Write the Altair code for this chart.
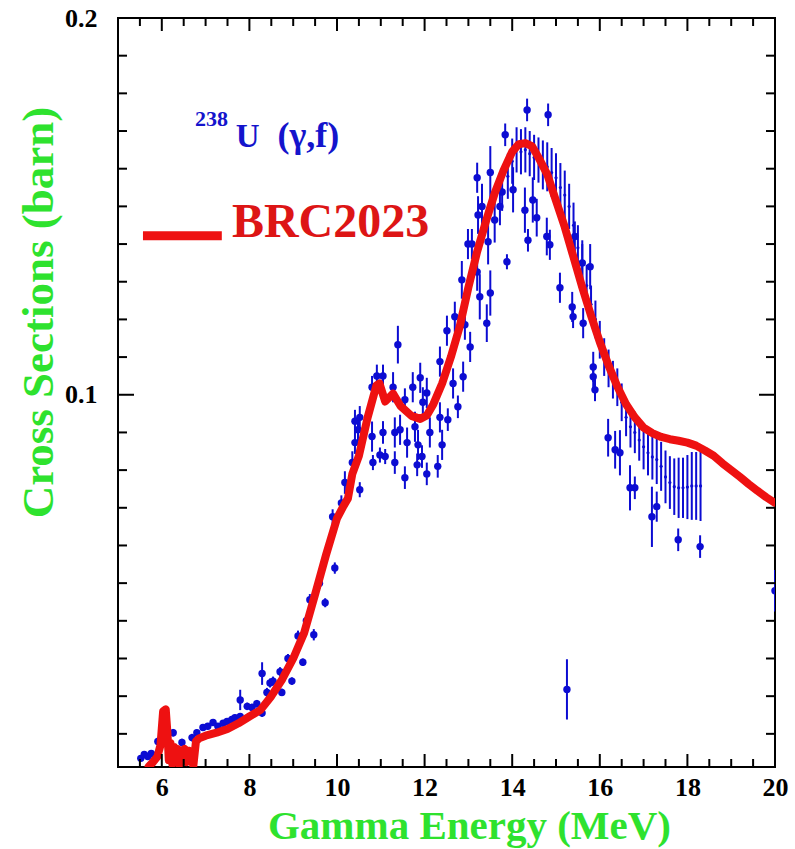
import altair as alt
import numpy as np
import pandas as pd

# ---------------------------------------------------------------- data
# BRC2023 evaluated 238U(gamma,f) cross section (barn) vs gamma energy (MeV)
curve_energy = [5.70, 5.80, 5.90, 5.97, 6.03, 6.09, 6.13, 6.16, 6.20, 6.24,
                6.28, 6.32, 6.36, 6.41, 6.46, 6.52, 6.57, 6.62, 6.67, 6.72,
                6.78, 6.85, 7.00, 7.25, 7.50, 7.75, 8.00, 8.25, 8.50, 8.75,
                9.00, 9.25, 9.50, 9.75, 10.00, 10.15, 10.25, 10.35, 10.50, 10.70,
                10.90, 10.97, 11.10, 11.28, 11.45, 11.70, 11.90, 12.05, 12.20, 12.40,
                12.60, 12.80, 13.00, 13.20, 13.40, 13.60, 13.80, 14.00, 14.15, 14.30,
                14.45, 14.60, 14.80, 15.00, 15.20, 15.40, 15.60, 15.80, 16.00, 16.20,
                16.40, 16.60, 16.80, 17.00, 17.20, 17.40, 17.60, 17.80, 18.00, 18.20,
                18.40, 18.60, 18.80, 19.00, 19.20, 19.40, 19.60, 19.80, 20.00]
curve_xs = [0.0013, 0.0025, 0.0040, 0.0070, 0.0160, 0.0165, 0.0100, 0.0030, 0.0075, 0.0020,
            0.0065, 0.0030, 0.0060, 0.0015, 0.0055, 0.0060, 0.0025, 0.0055, 0.0050, 0.0015,
            0.0080, 0.0088, 0.0095, 0.0103, 0.0113, 0.0128, 0.0146, 0.0163, 0.0200, 0.0245,
            0.0300, 0.0368, 0.0470, 0.0575, 0.0672, 0.0705, 0.0725, 0.0790, 0.0838, 0.0940,
            0.1025, 0.1030, 0.0982, 0.1003, 0.0970, 0.0944, 0.0936, 0.0945, 0.0975, 0.1030,
            0.1100, 0.1180, 0.1285, 0.1380, 0.1460, 0.1535, 0.1595, 0.1645, 0.1665, 0.1668,
            0.1660, 0.1630, 0.1585, 0.1515, 0.1445, 0.1365, 0.1285, 0.1210, 0.1140, 0.1078,
            0.1022, 0.0975, 0.0940, 0.0913, 0.0898, 0.0888, 0.0882, 0.0878, 0.0873, 0.0865,
            0.0852, 0.0838, 0.0818, 0.0800, 0.0782, 0.0763, 0.0745, 0.0728, 0.0713]

# measured points drawn with filled markers
dot_energy = [5.52, 5.60, 5.68, 5.76, 5.84, 5.91, 6.26, 6.46, 6.69, 6.80,
              6.94, 7.05, 7.17, 7.28, 7.40, 7.49, 7.60, 7.67, 7.79, 7.79,
              7.95, 8.06, 8.17, 8.29, 8.29, 8.40, 8.47, 8.54, 8.70, 8.74,
              8.88, 8.97, 9.11, 9.22, 9.30, 9.38, 9.47, 9.60, 9.73, 9.90,
              9.95, 10.10, 10.18, 10.35, 10.41, 10.41, 10.48, 10.52, 10.52, 10.80,
              10.80, 10.82, 10.91, 10.98, 11.05, 11.05, 11.10, 11.28, 11.32, 11.32,
              11.39, 11.44, 11.55, 11.55, 11.60, 11.73, 11.78, 11.83, 11.85, 11.90,
              11.94, 11.96, 12.05, 12.05, 12.12, 12.30, 12.35, 12.35, 12.40, 12.51,
              12.53, 12.65, 12.69, 12.76, 12.85, 12.88, 12.92, 12.99, 13.04, 13.08,
              13.20, 13.20, 13.22, 13.26, 13.31, 13.42, 13.45, 13.50, 13.50, 13.60,
              13.72, 13.77, 13.84, 13.88, 14.02, 14.29, 14.34, 14.36, 14.47, 14.56,
              14.79, 14.82, 14.86, 15.09, 15.25, 15.37, 15.39, 15.43, 15.60, 15.62,
              15.78, 15.85, 15.85, 15.89, 16.19, 16.35, 16.46, 16.69, 16.80, 17.19,
              17.30, 17.79, 18.29, 20.00]
dot_xs = [0.0035, 0.0045, 0.0040, 0.0048, 0.0042, 0.0080, 0.0103, 0.0077, 0.0090, 0.0103,
          0.0117, 0.0120, 0.0130, 0.0120, 0.0128, 0.0133, 0.0138, 0.0143, 0.0146, 0.0190,
          0.0173, 0.0170, 0.0180, 0.0155, 0.0260, 0.0210, 0.0235, 0.0240, 0.0265, 0.0210,
          0.0300, 0.0240, 0.0360, 0.0290, 0.0400, 0.0456, 0.0363, 0.0500, 0.0448, 0.0676,
          0.0540, 0.0713, 0.0767, 0.0820, 0.0873, 0.0930, 0.0907, 0.0940, 0.0748, 0.1020,
          0.0889, 0.0820, 0.1050, 0.0840, 0.1050, 0.0900, 0.0836, 0.1020, 0.0900, 0.0820,
          0.1133, 0.0907, 0.0987, 0.0780, 0.0873, 0.1020, 0.0915, 0.0814, 0.0867, 0.1045,
          0.0836, 0.0980, 0.1005, 0.0790, 0.0900, 0.0810, 0.1088, 0.0940, 0.0867, 0.1170,
          0.0934, 0.1030, 0.1207, 0.0968, 0.1305, 0.1048, 0.1186, 0.1400, 0.1127, 0.1400,
          0.1576, 0.1326, 0.1477, 0.1260, 0.1500, 0.1190, 0.1406, 0.1590, 0.1270, 0.1464,
          0.1500, 0.1538, 0.1690, 0.1353, 0.1544, 0.1490, 0.1756, 0.1410, 0.1517, 0.1470,
          0.1420, 0.1743, 0.1398, 0.1284, 0.0218, 0.1233, 0.1207, 0.1420, 0.1350, 0.1190,
          0.1340, 0.1074, 0.1048, 0.1013, 0.0886, 0.0854, 0.0846, 0.0753, 0.0753, 0.0676,
          0.0703, 0.0615, 0.0597, 0.0480]
dot_err = [0.0008, 0.0008, 0.0008, 0.0008, 0.0008, 0.0010, 0.0010, 0.0010, 0.0010, 0.0008,
           0.0008, 0.0008, 0.0008, 0.0008, 0.0008, 0.0008, 0.0008, 0.0008, 0.0008, 0.0027,
           0.0010, 0.0010, 0.0010, 0.0010, 0.0030, 0.0012, 0.0012, 0.0012, 0.0012, 0.0010,
           0.0012, 0.0010, 0.0014, 0.0010, 0.0015, 0.0015, 0.0015, 0.0015, 0.0012, 0.0020,
           0.0015, 0.0020, 0.0030, 0.0030, 0.0030, 0.0030, 0.0030, 0.0030, 0.0020, 0.0030,
           0.0040, 0.0020, 0.0030, 0.0020, 0.0030, 0.0030, 0.0020, 0.0040, 0.0040, 0.0030,
           0.0050, 0.0040, 0.0030, 0.0030, 0.0040, 0.0040, 0.0040, 0.0030, 0.0040, 0.0040,
           0.0030, 0.0040, 0.0040, 0.0030, 0.0040, 0.0030, 0.0040, 0.0040, 0.0040, 0.0040,
           0.0030, 0.0040, 0.0040, 0.0030, 0.0050, 0.0040, 0.0040, 0.0040, 0.0040, 0.0040,
           0.0040, 0.0050, 0.0050, 0.0060, 0.0060, 0.0050, 0.0060, 0.0070, 0.0060, 0.0060,
           0.0050, 0.0050, 0.0030, 0.0020, 0.0060, 0.0060, 0.0030, 0.0030, 0.0060, 0.0050,
           0.0050, 0.0030, 0.0040, 0.0040, 0.0080, 0.0040, 0.0030, 0.0040, 0.0050, 0.0040,
           0.0060, 0.0040, 0.0030, 0.0030, 0.0050, 0.0050, 0.0060, 0.0060, 0.0030, 0.0080,
           0.0040, 0.0030, 0.0030, 0.0055]

# dense data set with large uncertainties
bar_energy = [13.9, 14.0, 14.1, 14.2, 14.3, 14.4, 14.5, 14.6, 14.7, 14.8,
              14.9, 15.0, 15.1, 15.2, 15.3, 15.4, 15.5, 15.6, 15.7, 15.8,
              15.9, 16.0, 16.1, 16.2, 16.3, 16.4, 16.5, 16.6, 16.7, 16.8,
              16.9, 17.0, 17.1, 17.2, 17.3, 17.4, 17.5, 17.6, 17.7, 17.8,
              17.9, 18.0, 18.1, 18.2, 18.3]
bar_xs = [0.1580, 0.1620, 0.1650, 0.1645, 0.1650, 0.1640, 0.1630, 0.1623, 0.1610, 0.1605,
          0.1590, 0.1576, 0.1550, 0.1530, 0.1500, 0.1450, 0.1390, 0.1350, 0.1290, 0.1240,
          0.1200, 0.1146, 0.1100, 0.1070, 0.1040, 0.1020, 0.0980, 0.0940, 0.0915, 0.0900,
          0.0880, 0.0862, 0.0846, 0.0835, 0.0828, 0.0810, 0.0782, 0.0767, 0.0756, 0.0753,
          0.0753, 0.0755, 0.0758, 0.0758, 0.0758]
bar_err = [0.0060, 0.0060, 0.0060, 0.0060, 0.0060, 0.0060, 0.0060, 0.0060, 0.0065, 0.0065,
           0.0065, 0.0065, 0.0065, 0.0065, 0.0060, 0.0060, 0.0060, 0.0060, 0.0055, 0.0050,
           0.0050, 0.0050, 0.0050, 0.0050, 0.0050, 0.0050, 0.0050, 0.0050, 0.0055, 0.0055,
           0.0055, 0.0060, 0.0060, 0.0060, 0.0065, 0.0065, 0.0070, 0.0070, 0.0075, 0.0080,
           0.0080, 0.0085, 0.0090, 0.0090, 0.0093]

# axis ticks
x_labels = [6, 8, 10, 12, 14, 16, 18, 20]
x_major = [6, 8, 10, 12, 14, 16, 18]
x_minor = [float(v) for v in np.arange(5.5, 20.0, 0.5) if v % 2 != 0]
y_labels = [0.1, 0.2]
y_major = [0.1]
y_minor = [round(float(v), 2) for v in np.arange(0.01, 0.2, 0.01) if abs(v - 0.1) > 1e-6]

# ---------------------------------------------------------------- style
W, H = 657, 749
FONT = "Liberation Serif"
BLUE = "#0c0cd2"
RED = "#ee1111"
GREEN = "#2ee22e"
HHALF = 0.06  # half-width of horizontal energy bars (MeV)

xscale = alt.Scale(domain=[5, 20], nice=False, zero=False)
yscale = alt.Scale(domain=[0.0012, 0.2], nice=False, zero=False)

x_axis = alt.Axis(values=x_labels, format="d", ticks=False, domain=False, grid=False,
                  labelFont=FONT, labelFontWeight="bold", labelFontSize=26,
                  labelColor="black", labelPadding=28, labelBaseline="alphabetic",
                  labelFlush=False, labelOverlap=False,
                  title="Gamma Energy (MeV)", titleFont=FONT, titleFontWeight="bold",
                  titleFontSize=41, titleColor=GREEN, titleBaseline="alphabetic",
                  titleX=351, titleY=71)
y_axis = alt.Axis(values=y_labels, format=".1f", ticks=False, domain=False, grid=False,
                  labelFont=FONT, labelFontWeight="bold", labelFontSize=26,
                  labelColor="black", labelPadding=21, labelBaseline="middle",
                  labelOverlap=False,
                  title="Cross Sections (barn)", titleFont=FONT, titleFontWeight="bold",
                  titleFontSize=45, titleColor=GREEN, titleBaseline="alphabetic",
                  titleAngle=270, titleAlign="center", titleX=-66, titleY=294)


# every layer shares the same scales and axis definitions
def X(field):
    return alt.X(f"{field}:Q", scale=xscale, axis=x_axis)


def Y(field):
    return alt.Y(f"{field}:Q", scale=yscale, axis=y_axis)


curve = pd.DataFrame({"E": curve_energy, "xs": curve_xs})
dots = pd.DataFrame({"E": dot_energy, "xs": dot_xs, "err": dot_err})
dots["lo"] = dots["xs"] - dots["err"]
dots["hi"] = dots["xs"] + dots["err"]
dots["elo"] = np.where(dots["E"] >= 9.8, dots["E"] - HHALF, dots["E"])
dots["ehi"] = np.where(dots["E"] >= 9.8, dots["E"] + HHALF, dots["E"])
bars = pd.DataFrame({"E": bar_energy, "xs": bar_xs, "err": bar_err})
bars["lo"] = bars["xs"] - bars["err"]
bars["hi"] = bars["xs"] + bars["err"]

bar_rules = alt.Chart(bars).mark_rule(color=BLUE, strokeWidth=2, clip=True).encode(
    x=X("E"), y=Y("lo"), y2="hi")
bar_pts = alt.Chart(bars).mark_circle(color=BLUE, size=10, opacity=1, clip=True).encode(
    x=X("E"), y=Y("xs"))

dot_v = alt.Chart(dots).mark_rule(color=BLUE, strokeWidth=2, clip=True).encode(
    x=X("E"), y=Y("lo"), y2="hi")
dot_h = alt.Chart(dots).mark_rule(color=BLUE, strokeWidth=2, clip=True).encode(
    x=X("elo"), x2="ehi", y=Y("xs"))
dot_pts = alt.Chart(dots).mark_circle(color=BLUE, size=55, opacity=1, clip=True).encode(
    x=X("E"), y=Y("xs"))

eval_line = alt.Chart(curve).mark_line(color=RED, strokeWidth=8, strokeJoin="round",
                                       strokeCap="round", clip=True).encode(
    x=X("E"), y=Y("xs"))

# legend sample and labels, placed in data coordinates
legend_line = pd.DataFrame({"E": [5.57, 7.37], "xs": [0.1422, 0.1422]})
leg = alt.Chart(legend_line).mark_line(color=RED, strokeWidth=9).encode(
    x=X("E"), y=Y("xs"))


def label(text, e, s, size, color):
    return alt.Chart(pd.DataFrame({"E": [e], "xs": [s], "t": [text]})).mark_text(
        font=FONT, fontWeight="bold", fontSize=size, color=color,
        align="left", baseline="alphabetic").encode(x=X("E"), y=Y("xs"), text="t:N")


lab_brc = label("BRC2023", 7.60, 0.1419, 48, "#dd1515")
lab_a = label("238", 6.76, 0.1714, 22, "#1414cc")
lab_u = label("U", 7.69, 0.1658, 33, "#1414cc")
lab_r = label("(γ,f)", 8.64, 0.1658, 36, "#1414cc")

# inward ticks on all four sides
xmaj = pd.DataFrame({"v": x_major})
xmin = pd.DataFrame({"v": x_minor})
ymaj = pd.DataFrame({"v": y_major})
ymin = pd.DataFrame({"v": y_minor})


def xticks(df, length):
    bottom = alt.Chart(df).mark_rule(color="black", strokeWidth=2).encode(
        x=X("v"), y=alt.value(H), y2=alt.value(H - length))
    top = alt.Chart(df).mark_rule(color="black", strokeWidth=2).encode(
        x=X("v"), y=alt.value(0), y2=alt.value(length))
    return [bottom, top]


def yticks(df, length):
    left = alt.Chart(df).mark_rule(color="black", strokeWidth=2).encode(
        y=Y("v"), x=alt.value(0), x2=alt.value(length))
    right = alt.Chart(df).mark_rule(color="black", strokeWidth=2).encode(
        y=Y("v"), x=alt.value(W), x2=alt.value(W - length))
    return [left, right]


layers = [bar_rules, bar_pts, dot_v, dot_h, dot_pts, eval_line,
          leg, lab_brc, lab_a, lab_u, lab_r]
layers += xticks(xmaj, 13) + xticks(xmin, 8) + yticks(ymaj, 16) + yticks(ymin, 9)

chart = alt.layer(*layers).properties(
    width=W, height=H,
    autosize=alt.AutoSizeParams(type="none"),
    padding={"left": 118, "top": 18, "right": 20, "bottom": 82},
    background="white",
).configure_view(stroke="black", strokeWidth=2)

chart.save("out.html", embed_options={"renderer": "svg", "actions": False})
